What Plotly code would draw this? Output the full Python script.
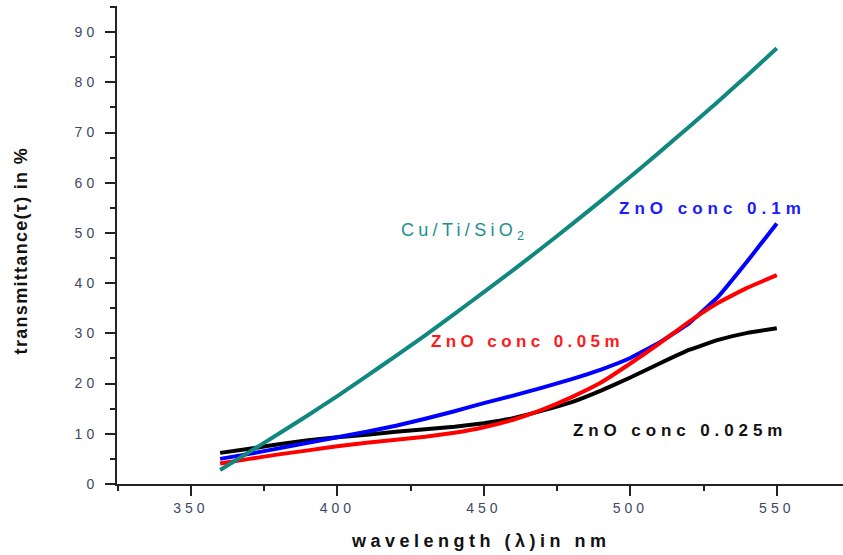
import plotly.graph_objects as go

# Transmittance spectra (%) sampled every 10 nm
wavelength = [360, 370, 380, 390, 400, 410, 420, 430, 440, 450,
              460, 470, 480, 490, 500, 510, 520, 530, 540, 550]
cu_ti_sio2 = [2.8, 6.4, 10.0, 13.7, 17.5, 21.5, 25.5, 29.6, 33.9, 38.2,
              42.6, 47.1, 51.7, 56.4, 61.2, 66.1, 71.1, 76.2, 81.4, 86.8]
zno_0_1m = [5.0, 6.0, 7.1, 8.2, 9.3, 10.4, 11.6, 13.0, 14.5, 16.1,
            17.6, 19.2, 20.9, 22.8, 25.1, 28.2, 32.0, 37.3, 44.4, 51.9]
zno_0_05m = [4.1, 5.0, 5.9, 6.7, 7.5, 8.2, 8.8, 9.4, 10.2, 11.3,
             12.8, 14.8, 17.3, 20.2, 24.0, 28.0, 32.3, 36.1, 39.1, 41.6]
zno_0_025m = [6.2, 7.0, 7.9, 8.7, 9.3, 9.8, 10.4, 10.9, 11.4, 12.1,
              13.1, 14.6, 16.3, 18.6, 21.2, 24.0, 26.7, 28.7, 30.1, 31.0]

x_ticks = [350, 400, 450, 500, 550]
y_ticks = [0, 10, 20, 30, 40, 50, 60, 70, 80, 90]

FONT = "Arial, Liberation Sans, sans-serif"
AXIS = "#222222"
TICKTXT = "#3e4866"


def spaced(text, px):
    return f'<span style="letter-spacing:{px}px">{text}</span>'


fig = go.Figure()

series = [
    (zno_0_025m, "#000000", "ZnO conc 0.025m"),
    (zno_0_1m, "#0000ff", "ZnO conc 0.1m"),
    (zno_0_05m, "#ff0000", "ZnO conc 0.05m"),
    (cu_ti_sio2, "#10877f", "Cu/Ti/SiO2"),
]
for values, color, name in series:
    fig.add_trace(go.Scatter(
        x=wavelength, y=values, mode="lines", name=name,
        line=dict(color=color, width=4, shape="spline", smoothing=0.3),
        showlegend=False,
    ))

# Curve labels
labels = [
    (443.3, 50.2, "Cu/Ti/SiO<sub>2</sub>", "#1a9090", "normal", 18, 4.3),
    (528.2, 54.8, "ZnO conc 0.1m", "#1a1aff", "bold", 17, 5.0),
    (465.0, 28.3, "ZnO conc 0.05m", "#ff1a1a", "bold", 17, 4.4),
    (517.0, 10.7, "ZnO conc 0.025m", "#111111", "bold", 17, 4.9),
]
for x, y, text, color, weight, size, ls in labels:
    fig.add_annotation(
        x=x, y=y, xref="x", yref="y", text=spaced(text, ls), showarrow=False,
        font=dict(family=FONT, size=size, color=color, weight=weight),
        xanchor="center", yanchor="middle",
    )

# Axis titles
fig.add_annotation(
    x=0.501, y=-0.119, xref="paper", yref="paper",
    text=spaced("wavelength (λ)in nm", 4.5), showarrow=False,
    font=dict(family=FONT, size=18, color="#111111", weight="bold"),
    xanchor="center", yanchor="middle",
)
fig.add_annotation(
    x=-0.132, y=0.487, xref="paper", yref="paper",
    text=spaced("transmittance(τ) in %", 1.3), showarrow=False, textangle=-90,
    font=dict(family=FONT, size=18, color="#111111", weight="bold"),
    xanchor="center", yanchor="middle",
)

x_range = [324.8, 572.6]
y_range = [0, 95.2]

fig.update_layout(
    width=843, height=555,
    margin=dict(l=117, r=0, t=6, b=71),
    paper_bgcolor="white", plot_bgcolor="white",
    xaxis=dict(
        range=x_range, tickmode="array", tickvals=x_ticks,
        ticktext=[spaced(str(v), 4) for v in x_ticks],
        ticks="outside", ticklen=10, tickwidth=2, tickcolor=AXIS,
        minor=dict(dtick=25, tick0=325, ticks="outside", ticklen=5,
                   tickwidth=2, tickcolor=AXIS),
        showline=True, linewidth=2, linecolor=AXIS, mirror=False,
        showgrid=False, zeroline=False,
        tickfont=dict(family=FONT, size=14, color=TICKTXT),
    ),
    yaxis=dict(
        range=y_range, tickmode="array", tickvals=y_ticks,
        ticktext=[spaced(str(v), 4) for v in y_ticks],
        ticks="outside", ticklen=10, tickwidth=2, tickcolor=AXIS,
        minor=dict(dtick=5, tick0=0, ticks="outside", ticklen=5,
                   tickwidth=2, tickcolor=AXIS),
        showline=True, linewidth=2, linecolor=AXIS, mirror=False,
        showgrid=False, zeroline=False, ticklabelstandoff=4,
        tickfont=dict(family=FONT, size=14, color=TICKTXT),
    ),
    xaxis2=dict(
        overlaying="x", side="top", anchor="y", range=x_range,
        tickmode="array", tickvals=x_ticks, showticklabels=False,
        ticks="inside", ticklen=5, tickwidth=2, tickcolor=AXIS,
        showline=True, linewidth=2, linecolor=AXIS,
        showgrid=False, zeroline=False,
    ),
    yaxis2=dict(
        overlaying="y", side="right", anchor="x", range=[0.025, 4.984],
        dtick=1, tick0=0, showticklabels=False,
        ticks="inside", ticklen=6, tickwidth=2, tickcolor=AXIS,
        showline=False, showgrid=False, zeroline=False,
    ),
)

fig.write_html("out.html")
